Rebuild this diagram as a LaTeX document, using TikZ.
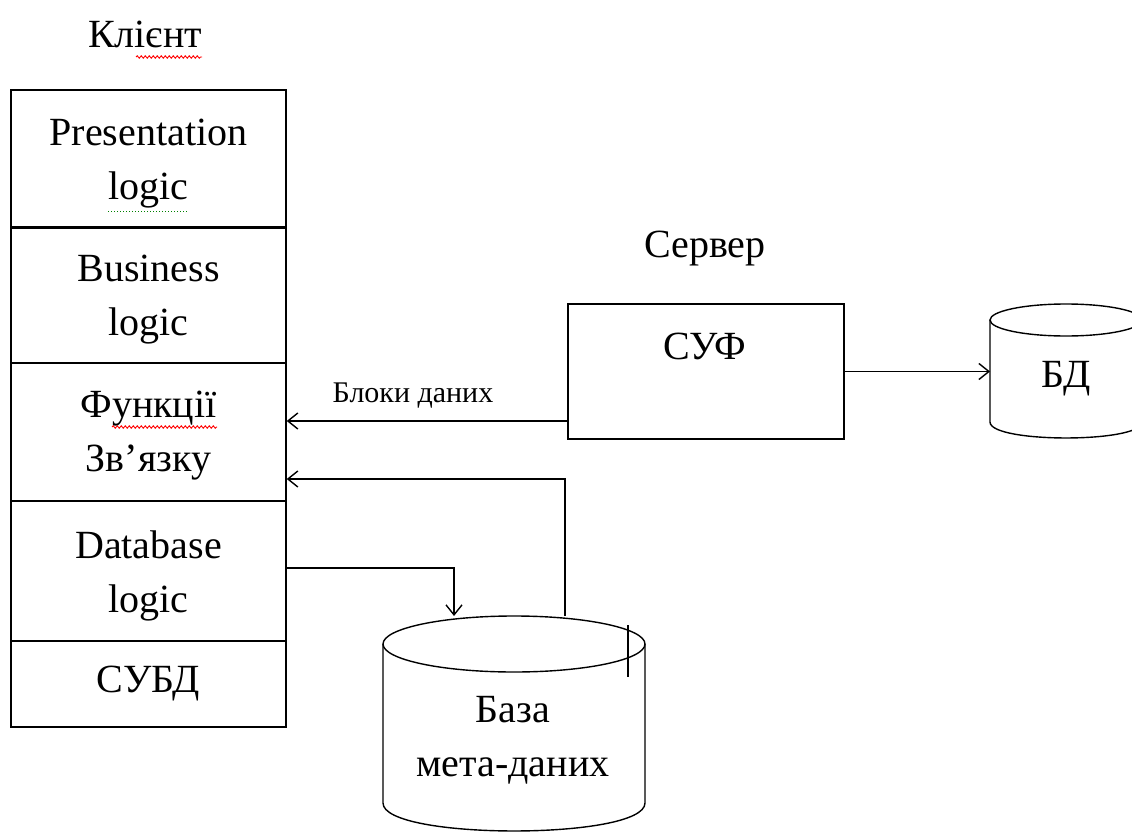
\documentclass[tikz,border=0pt]{standalone}
\usepackage{fontspec}
\setmainfont{Liberation Serif}
\usetikzlibrary{arrows.meta,calc,decorations.pathmorphing}

\begin{document}
\begin{tikzpicture}[x=1pt,y=-1pt,
  line width=1.4pt,
  lbl/.style={font=\fontsize{40}{54}\selectfont, align=center, inner sep=0pt},
  small/.style={font=\fontsize{30}{36}\selectfont, inner sep=0pt},
  layer/.style={draw, minimum width=275pt, inner sep=0pt},
  box/.style={draw, minimum width=276pt, minimum height=135pt, inner sep=0pt},
  arr/.style={-{Straight Barb[length=10pt,width=16pt]}},
  spell/.style={red, line width=0.9pt, decorate,
                decoration={snake, amplitude=1.2pt, segment length=4pt}},
  gram/.style={green!50!black, line width=1pt, dotted}
]
\clip (0,0) rectangle (1132,832);
\fill[white] (0,0) rectangle (1132,832);

% client column
\node[lbl, anchor=base] (client) at (145,48) {Клієнт};
\draw[spell] (136,57) -- (202,57);

\node[layer, minimum height=137pt] (pres) at (148.5,158.5) {};
\node[layer, minimum height=136pt] (bus)  at (148.5,295) {};
\node[layer, minimum height=138pt] (func) at (148.5,432) {};
\node[layer, minimum height=140pt] (dbl)  at (148.5,571) {};
\node[layer, minimum height=86pt]  (subd) at (148.5,684) {};
\draw[line width=3pt] (pres.south west) -- (pres.south east);

\node[lbl] (prest) at ([yshift=-5pt]pres.center) {Presentation\\logic};
\draw[gram] (108,211) -- (187,211);
\node[lbl] (bust)  at ([yshift=-5pt]bus.center)  {Business\\logic};
\node[lbl] (funct) at ([yshift=-4pt]func.center) {Функції\\Зв’язку};
\draw[spell] (112,427) -- (217,427);
\node[lbl] (dblt)  at ([yshift=-5pt]dbl.center)  {Database\\logic};
\node[lbl] (subdt) at (subd.center) {СУБД};

% server
\node[lbl, anchor=base] (server) at (705,257) {Сервер};
\node[box] (suf) at (706,371.5) {};
\node[lbl, anchor=base] (suft) at (705,359) {СУФ};

% database cylinder
\draw (990,320) -- (990,422) .. controls (990,443.3) and (1142,443.3) .. (1142,422) -- (1142,320);
\draw (1066,320) ellipse [x radius=76pt, y radius=16pt];
\node[lbl, anchor=base] (bdt) at (1066,387) {БД};
\coordinate (bdw) at (990,371.5);

% metadata cylinder
\draw (383,644) -- (383,803) .. controls (383,840.3) and (645,840.3) .. (645,803) -- (645,644);
\draw (514,644) ellipse [x radius=131pt, y radius=28pt];
\node[lbl] (meta) at (513,740) {База\\мета-даних};
\draw[line width=2.5pt] (628,625) -- (628,677);
\coordinate (mtin)  at (454,616);
\coordinate (mtout) at (565,616);

% connectors
\draw[arr] (suf.east) -- (suf.east -| bdw);
\coordinate (b1) at ($(suf.west)+(0,49.5)$);
\draw[arr] (b1) -- (b1 -| func.east);
\node[small, anchor=base] (blk) at (413,402) {Блоки даних};
\coordinate (b2) at ($(func.east)+(0,47)$);
\draw[arr] (mtout) |- (b2);
\coordinate (b3) at ($(dbl.east)+(0,-3)$);
\draw[arr] (b3) -| (mtin);
\end{tikzpicture}
\end{document}
